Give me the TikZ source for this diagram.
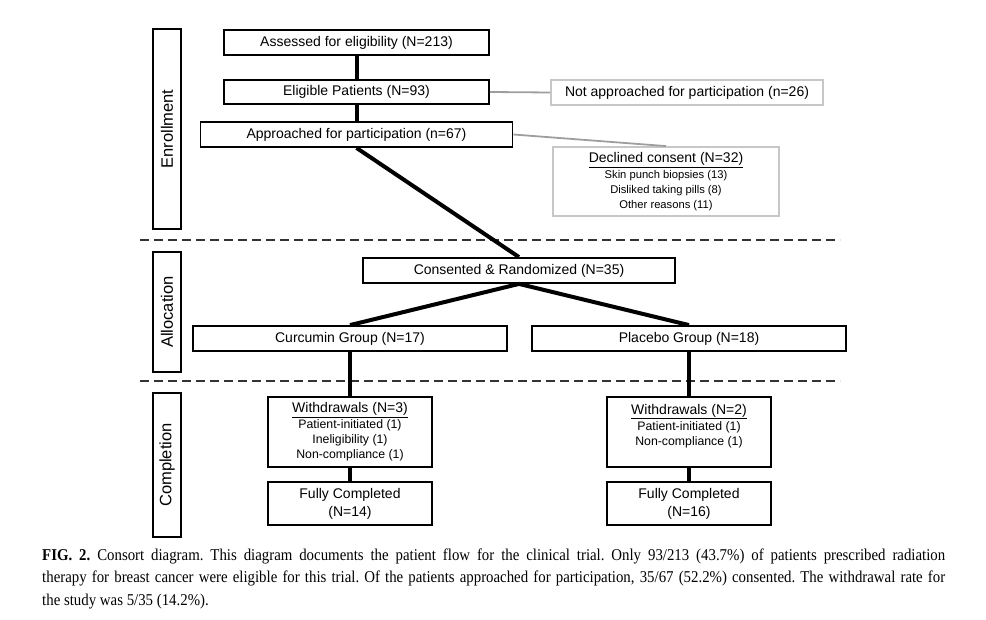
\documentclass[tikz,border=0pt]{standalone}
\usepackage{fontspec}
\setmainfont{Liberation Sans}
\newfontfamily\capfont[FakeStretch=0.9]{Liberation Serif}
\begin{document}
\begin{tikzpicture}[x=1pt,y=-1pt,
  box/.style={draw=black,line width=1.8pt,inner sep=0pt,align=center,font=\fontsize{14}{17}\selectfont},
  gbox/.style={draw=black!22,line width=1.8pt,inner sep=0pt,align=center,font=\fontsize{14}{17}\selectfont},
  lab/.style={draw=black,line width=1.8pt,inner sep=0pt,minimum width=28pt,font=\fontsize{16.5}{19}\selectfont},
  flow/.style={line width=4pt,black},
  side/.style={line width=1.8pt,black!38},
  sep/.style={line width=1.8pt,dash pattern=on 9pt off 5pt,black!80}]
\useasboundingbox (0,0) rectangle (986,620);
% phase labels
\node[lab,minimum height=200pt] (enr) at (167,129) {\rotatebox{90}{Enrollment}};
\node[lab,minimum height=120pt] (all) at (167,312) {\rotatebox{90}{Allocation}};
\node[lab,minimum height=144pt] (com) at (167,465) {\rotatebox{90}{Completion}};
% separators
\coordinate (s1a) at (140,240); \coordinate (s1b) at (840,240);
\coordinate (s2a) at (140,381); \coordinate (s2b) at (840,381);
\draw[sep] (s1a) -- (s1b);
\draw[sep] (s2a) -- (s2b);
% enrollment
\node[box,minimum width=265pt,minimum height=25pt] (assess) at (356.5,42.5) {Assessed for eligibility (N=213)};
\node[box,minimum width=265pt,minimum height=24pt] (elig) at (356.5,92) {Eligible Patients (N=93)};
\node[box,minimum width=312pt,minimum height=25pt] (appr) at (356.5,134.5) {Approached for participation (n=67)};
\node[gbox,minimum width=272pt,minimum height=25pt] (notap) at (687,92.5) {Not approached for participation (n=26)};
\node[gbox,minimum width=226pt,minimum height=69pt,font=\fontsize{11.2}{15}\selectfont] (decl) at (666,181.5)
  {{\fontsize{14}{15}\selectfont\underline{Declined consent (N=32)}}\\[1pt]
   Skin punch biopsies (13)\\ Disliked taking pills (8)\\ Other reasons (11)};
% allocation
\node[box,minimum width=312pt,minimum height=25pt] (cons) at (519,270.5) {Consented \& Randomized (N=35)};
\node[box,minimum width=314pt,minimum height=25pt] (curc) at (350,338.5) {Curcumin Group (N=17)};
\node[box,minimum width=314pt,minimum height=25pt] (plac) at (689,338.5) {Placebo Group (N=18)};
% completion
\node[box,minimum width=164pt,minimum height=70pt,font=\fontsize{12.3}{15}\selectfont] (wdl) at (350,432)
  {{\fontsize{14}{15}\selectfont\underline{Withdrawals (N=3)}}\\[1pt]
   Patient-initiated (1)\\ Ineligibility (1)\\ Non-compliance (1)};
\node[box,minimum width=164pt,minimum height=70pt,font=\fontsize{12.3}{15}\selectfont] (wdr) at (689,432)
  {{\fontsize{14}{15}\selectfont\underline{Withdrawals (N=2)}}\\[1pt]
   Patient-initiated (1)\\ Non-compliance (1)\\ \mbox{}};
\node[box,minimum width=164pt,minimum height=43pt,font=\fontsize{14}{18}\selectfont] (fcl) at (350,503.5) {Fully Completed\\(N=14)};
\node[box,minimum width=164pt,minimum height=43pt,font=\fontsize{14}{18}\selectfont] (fcr) at (689,503.5) {Fully Completed\\(N=16)};
% connectors
\draw[flow] (assess) -- (elig);
\draw[flow] (elig) -- (appr);
\draw[flow] (appr.south) -- (cons.north);
\draw[flow] (cons.south) -- (curc.north);
\draw[flow] (cons.south) -- (plac.north);
\draw[flow] (curc) -- (wdl);
\draw[flow] (plac) -- (wdr);
\draw[flow] (wdl) -- (fcl);
\draw[flow] (wdr) -- (fcr);
\draw[side] (elig.east) -- (notap.west);
\draw[side] (appr.east) -- (decl.north);
% caption
\node[anchor=base west,inner sep=0pt,text width=903pt,align=justify,
  font=\capfont\fontsize{16.5}{22.5}\selectfont\frenchspacing] (cap) at (42,560)
  {\textbf{FIG. 2.} Consort diagram. This diagram documents the patient flow for the clinical trial. Only 93/213 (43.7\%) of patients prescribed radiation\linebreak therapy for breast cancer were eligible for this trial. Of the patients approached for participation, 35/67 (52.2\%) consented. The withdrawal rate for\linebreak the study was 5/35 (14.2\%).};
\end{tikzpicture}
\end{document}
